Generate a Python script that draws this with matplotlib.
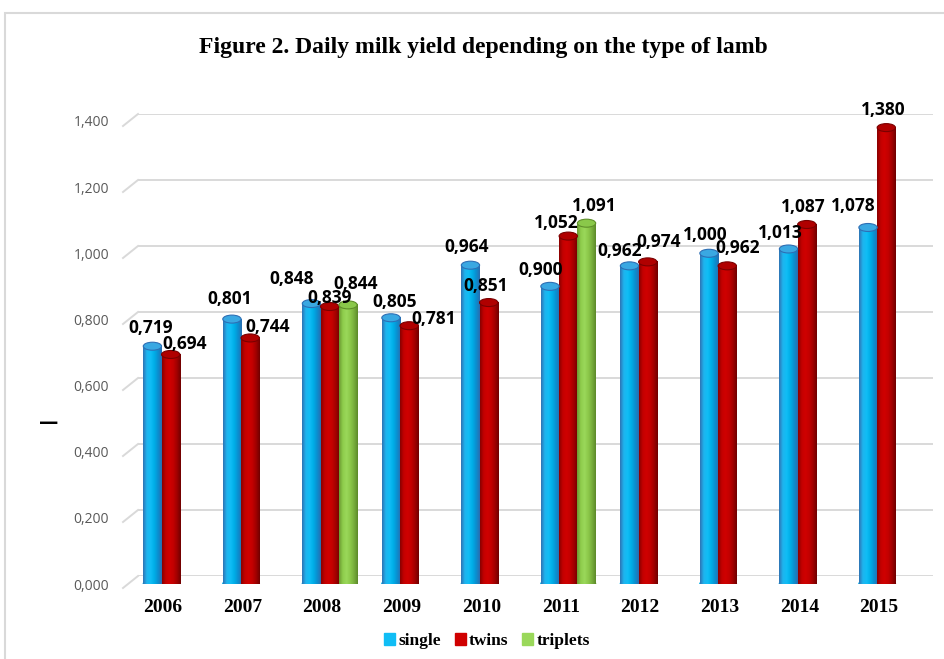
import numpy as np
import matplotlib.pyplot as plt
from matplotlib.colors import LinearSegmentedColormap
from matplotlib.patches import Ellipse, Patch, Rectangle

years = ['2006', '2007', '2008', '2009', '2010', '2011', '2012', '2013', '2014', '2015']
single = [0.719, 0.801, 0.848, 0.805, 0.964, 0.900, 0.962, 1.000, 1.013, 1.078]
twins = [0.694, 0.744, 0.839, 0.781, 0.851, 1.052, 0.974, 0.962, 1.087, 1.380]
triplets = [np.nan, np.nan, 0.844, np.nan, np.nan, 1.091, np.nan, np.nan, np.nan, np.nan]
series_names = ['single', 'twins', 'triplets']

# hand placement of the value labels (pixels, right / up)
shift_single = [(-2, 2), (-2, 4), (-20, 9), (4, 0), (-4, 2), (-9, 0), (-10, -1), (-4, 2), (-8, 0), (-15, 5)]
shift_twins = [(14, -6), (17, -5), (0, -7), (24, -9), (-3, 1), (-12, -3), (11, 4), (10, 2), (-4, 2), (-3, 2)]
shift_triplets = [(0, 0), (0, 0), (8, 5), (0, 0), (0, 0), (8, 1), (0, 0), (0, 0), (0, 0), (0, 0)]

W, H = 944, 659
fig = plt.figure(figsize=(W / 100, H / 100), dpi=100)


def box(x0, y0, x1, y1):
    return [x0 / W, 1 - y1 / H, (x1 - x0) / W, (y1 - y0) / H]


def num(v):
    return f'{v:.3f}'.replace('.', ',')


# outer chart frame
fig.add_artist(Rectangle((5 / W, -0.05), 1.1, 1.05 - 13 / H, transform=fig.transFigure,
                         fill=False, edgecolor='#d9d9d9', lw=1.5))

fig.text(483 / W, 1 - 47 / H, 'Figure 2. Daily milk yield depending on the type of lamb',
         ha='center', va='center', family='Liberation Serif', weight='bold', fontsize=17)

# back wall with gridlines
yticks = np.arange(0, 1.41, 0.2)
wall = fig.add_axes(box(138, 114, 933, 576))
wall.set_ylim(0, 1.4)
wall.set_yticks(yticks)
wall.set_xticks([])
wall.tick_params(left=False, labelleft=False)
wall.yaxis.grid(True, color='#d9d9d9', lw=1.4)
wall.patch.set_alpha(0)
for s in wall.spines.values():
    s.set_visible(False)
for v in yticks:
    wall.plot([-15 / 795, 0], [v - 12 / 330, v], color='#d9d9d9', lw=1.4,
              transform=wall.get_yaxis_transform(), clip_on=False)

# bars
ax = fig.add_axes(box(123, 121, 934, 584))
ax.patch.set_alpha(0)
for s in ax.spines.values():
    s.set_visible(False)
px_unit = 463 / 1.4
w = 0.23
x = np.arange(len(years))

styles = [
    (['#2e74b5', '#1fb4ee', '#10bdf5', '#00aee8', '#0a8fd0', '#2a6db0'], '#3aa8e2', '#2e6fb5'),
    (['#8a0000', '#c40000', '#d00000', '#c20000', '#a00000', '#700000'], '#b00000', '#7a0000'),
    (['#6c9b32', '#8fcd4d', '#9ad85a', '#8cc84a', '#78ae3c', '#5d8a2a'], '#8ac84a', '#5f8f2a'),
]
all_series = [single, twins, triplets]
all_shift = [shift_single, shift_twins, shift_triplets]

for k, (vals, shifts, (cols, cap_face, cap_edge)) in enumerate(zip(all_series, all_shift, styles)):
    cmap = LinearSegmentedColormap.from_list(series_names[k], cols)
    xs = x + (k - 1) * w
    bars = ax.bar(xs, vals, w, color=cols[2], zorder=2, linewidth=0)
    grad = np.linspace(0, 1, 64).reshape(1, -1)
    for b, v, (dx, dy) in zip(bars, vals, shifts):
        if np.isnan(v):
            continue
        x0 = b.get_x()
        ax.imshow(grad, extent=(x0, x0 + w, 0, v), cmap=cmap, aspect='auto', zorder=2.1)
        ax.add_patch(Ellipse((x0 + w / 2, 0), w, 8 / px_unit, color=cols[3], zorder=1.9))
        ax.add_patch(Ellipse((x0 + w / 2, v), w, 8 / px_unit, facecolor=cap_face,
                             edgecolor=cap_edge, lw=0.8, zorder=2.2))
        ax.annotate(num(v), (x0 + w / 2, v), xytext=(dx, 16 + dy), textcoords='offset pixels',
                    ha='center', va='center', family='Open Sans', weight='bold',
                    fontsize=12.5, color='black', zorder=5)

ax.set_xlim(-0.6, 9.6)
ax.set_ylim(0, 1.4)
ax.set_yticks(yticks, [num(v) for v in yticks])
ax.set_xticks(x - 0.095, years)
ax.tick_params(length=0)
ax.tick_params(axis='y', pad=10, labelcolor='#595959', labelsize=10)
ax.tick_params(axis='x', pad=11, labelsize=14)
for t in ax.get_yticklabels():
    t.set_family('Open Sans')
for t in ax.get_xticklabels():
    t.set_family('Liberation Serif')
    t.set_weight('bold')

fig.text(49 / W, 1 - 423 / H, '—', ha='center', va='center', fontsize=14, weight='bold')

handles = [Patch(color=c[0][2], label=n) for c, n in zip(styles, series_names)]
fig.legend(handles=handles, loc='center', bbox_to_anchor=(487 / W, 1 - 641 / H), ncol=3,
           frameon=False, handlelength=0.62, handleheight=0.62, handletextpad=0.2,
           columnspacing=0.8, prop={'family': 'Liberation Serif', 'weight': 'bold', 'size': 12.5})

fig.savefig('out.png', dpi=100)
